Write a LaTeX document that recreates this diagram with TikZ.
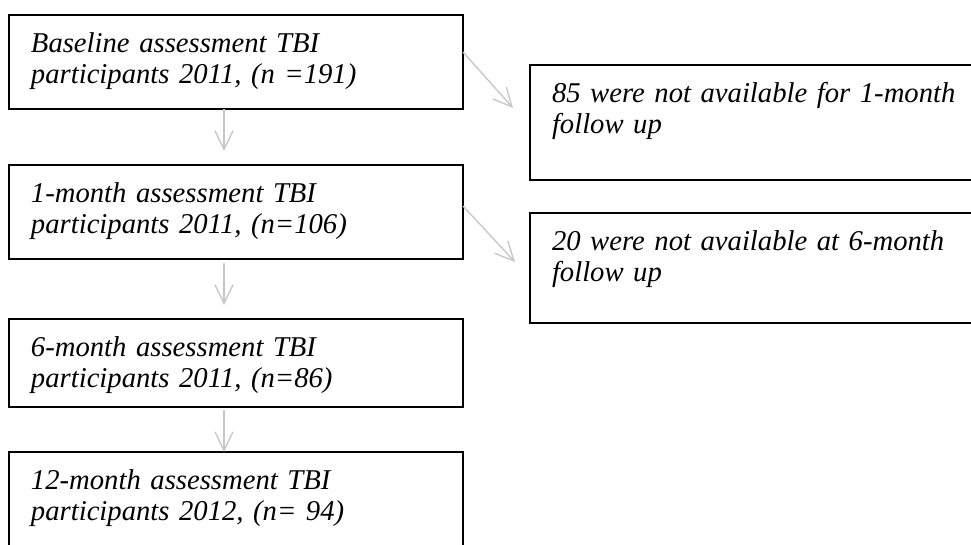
\documentclass[tikz,border=0pt]{standalone}
\usepackage{fontspec}
\setmainfont{Liberation Serif}
\usetikzlibrary{arrows.meta}

\begin{document}
\begin{tikzpicture}[x=0.75pt,y=-0.75pt,stage/.style={draw=black,line width=1.5pt,anchor=north west,outer sep=0pt,inner xsep=16.5pt,inner ysep=0pt,text width=307.5pt,align=left,text height=27.75pt,font=\fontsize{21.5}{23.5}\selectfont\itshape},loss/.style={stage,text width=340pt},flow/.style={draw=black!22,line width=1pt,-{Straight Barb[length=14pt,width=13.5pt]}}]
\useasboundingbox (0,0) rectangle (971,544);
\clip (0,0) rectangle (971,544);
% follow-up stages
\node[stage, text depth=42.75pt] (base) at (9,15) {Baseline assessment TBI\\participants 2011, (n =191)};
\node[stage, text depth=42.75pt] (m1) at (9,165) {1-month assessment TBI\\participants 2011, (n=106)};
\node[stage, text depth=38.25pt] (m6) at (9,319) {6-month assessment TBI\\participants 2011, (n=86)};
\node[stage, text depth=45pt] (m12) at (9,452) {12-month assessment TBI\\participants 2012, (n= 94)};
% losses
\node[loss, text depth=58.5pt] (na1) at (530,65) {85 were not available for 1-month\\follow up};
\node[loss, text depth=54.75pt] (na6) at (530,213) {20 were not available at 6-month\\follow up};
\draw[flow] ([xshift=-9pt]base.south) -- ([xshift=-9pt,yshift=10.5pt]m1.north);
\draw[flow] ([xshift=-9pt,yshift=-3pt]m1.south) -- ([xshift=-9pt,yshift=10.5pt]m6.north);
\draw[flow] ([xshift=-9pt,yshift=-2.25pt]m6.south) -- ([xshift=-9pt]m12.north);
\draw[flow] (base.base east) -- ([xshift=-12.75pt,yshift=-4.5pt]na1.base west);
\draw[flow] ([yshift=-3pt]m1.base east) -- ([xshift=-11.25pt,yshift=-9pt]na6.base west);
\end{tikzpicture}
\end{document}
